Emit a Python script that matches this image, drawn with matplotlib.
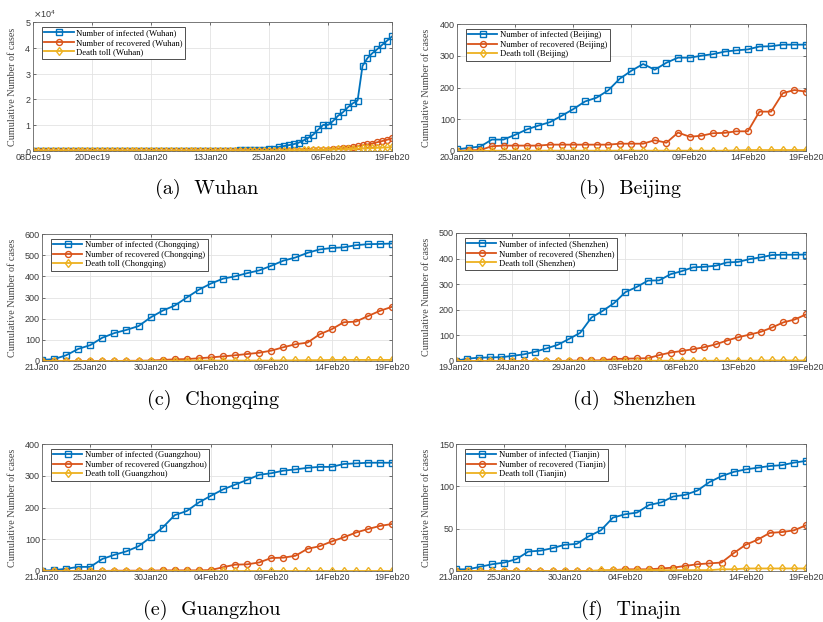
import numpy as np
import matplotlib
matplotlib.use("Agg")
import matplotlib.pyplot as plt
import matplotlib.dates as mdates
from matplotlib.ticker import ScalarFormatter, MultipleLocator

# ---------------- data ----------------
wuhan_start, wuhan_end = "2019-12-08", "2020-02-19"
wuhan_infected = ([1, 1, 1, 2, 2, 3, 4, 5, 7, 8, 10, 12, 15, 17, 20, 22, 25, 27, 30, 32, 35, 38, 40, 41]
                  + [41] * 15 + [45, 62, 121, 198, 258, 363, 425, 495, 572, 618, 698]
                  + [1590, 1905, 2261, 2639, 3215]
                  + [4109, 5142, 6384, 8351, 10117, 10117, 11618, 13603, 14982, 16902, 18454, 19558,
                     32994, 35991, 37914, 39462, 41152, 42752, 44412])
wuhan_recovered = ([0] * 24 + [0] * 14 + [2, 5, 12, 15, 19, 25, 25, 28, 31, 32, 39, 42]
                   + [50, 60, 80, 100, 120]
                   + [150, 190, 250, 330, 420, 550, 700, 900, 1100, 1350, 1550, 1850, 2200, 2550,
                      2900, 3400, 3850, 4350, 4900])
wuhan_deaths = ([0] * 24 + [0] * 10 + [1, 1, 1, 1, 1, 2, 2, 3, 4, 6, 9, 17, 24, 39, 45, 63]
                + [85, 104, 129, 159, 192]
                + [224, 265, 313, 362, 414, 478, 545, 608, 681, 748, 820, 872, 1016, 1036, 1123,
                   1233, 1309, 1381, 1497])
wuhan_ticks = ["2019-12-08", "2019-12-20", "2020-01-01", "2020-01-13", "2020-01-25", "2020-02-06", "2020-02-19"]

beijing_start = "2020-01-20"
beijing_infected = [5, 10, 14, 36, 36, 51, 68, 80, 91, 111, 132, 156, 168, 191, 228, 253, 274, 256, 278,
                    294, 294, 300, 305, 313, 317, 320, 329, 330, 335, 335, 335]
beijing_recovered = [0, 2, 3, 15, 17, 17, 17, 17, 20, 20, 20, 20, 20, 20, 23, 23, 23, 34, 26, 58, 45, 48,
                     56, 57, 62, 62, 124, 124, 182, 192, 187]
beijing_deaths = [0, 0, 0, 1, 1, 1, 1, 1, 1, 1, 1, 1, 1, 1, 1, 1, 1, 1, 1, 1, 1, 1, 1, 1, 2, 3, 3, 3, 3, 3, 3]
beijing_ticks = ["2020-01-20", "2020-01-25", "2020-01-30", "2020-02-04", "2020-02-09", "2020-02-14", "2020-02-19"]

chongqing_start = "2020-01-21"
chongqing_infected = [5, 9, 27, 57, 75, 110, 132, 147, 165, 206, 238, 262, 300, 337, 366, 389, 400, 415,
                      428, 450, 474, 489, 511, 527, 534, 537, 547, 552, 553, 555]
chongqing_recovered = [0, 0, 0, 0, 0, 0, 0, 1, 1, 2, 5, 8, 9, 13, 17, 22, 27, 33, 39, 49, 65, 79, 87, 126,
                       150, 183, 186, 212, 237, 256]
chongqing_deaths = [0, 0, 0, 0, 0, 0, 0, 0, 0, 1, 1, 1, 2, 2, 2, 2, 2, 2, 2, 2, 3, 3, 4, 4, 5, 5, 5, 5, 5, 5]
std_ticks = ["2020-01-21", "2020-01-25", "2020-01-30", "2020-02-04", "2020-02-09", "2020-02-14", "2020-02-19"]

shenzhen_start = "2020-01-19"
shenzhen_infected = [1, 9, 13, 14, 15, 20, 26, 36, 49, 63, 86, 110, 170, 196, 226, 269, 289, 314, 315, 339,
                     351, 366, 368, 372, 385, 387, 398, 405, 414, 415, 415, 416]
shenzhen_recovered = [0] * 10 + [1, 2, 2, 3, 8, 9, 10, 11, 23, 33, 39, 46, 54, 65, 80, 93, 103, 114, 131,
                                 151, 162, 182]
shenzhen_deaths = [0] * 17 + [1] * 10 + [2] * 5
shenzhen_ticks = ["2020-01-19", "2020-01-24", "2020-01-29", "2020-02-03", "2020-02-08", "2020-02-13", "2020-02-19"]

guangzhou_start = "2020-01-21"
guangzhou_infected = [1, 3, 7, 13, 13, 38, 51, 62, 78, 106, 137, 176, 189, 216, 237, 257, 272, 287, 303,
                      308, 316, 320, 325, 328, 328, 337, 339, 341, 341, 341]
guangzhou_recovered = [0, 0, 0, 0, 0, 0, 1, 1, 1, 1, 2, 2, 2, 2, 3, 12, 20, 21, 27, 41, 42, 48, 70, 78, 93,
                       106, 121, 132, 142, 148]
guangzhou_deaths = [0] * 30

tianjin_start = "2020-01-21"
tianjin_infected = [2, 2, 5, 8, 10, 14, 23, 24, 27, 31, 32, 41, 48, 63, 67, 69, 78, 81, 88, 90, 95, 105,
                    112, 117, 120, 122, 124, 125, 128, 130]
tianjin_recovered = [0] * 13 + [1, 2, 2, 2, 3, 4, 6, 8, 9, 10, 21, 31, 37, 45, 46, 48, 54]
tianjin_deaths = [0] * 12 + [1] * 10 + [2, 2] + [3] * 6

# ---------------- style ----------------
C_INF, C_REC, C_DEA = "#0072BD", "#D95319", "#EDB120"
TICK_FONT = "Liberation Sans"
SERIF = "Liberation Serif"

W, H = 823, 622
fig = plt.figure(figsize=(W / 100, H / 100), dpi=100)


def make_ax(l, r, t, b):
    return fig.add_axes([l / W, 1 - b / H, (r - l) / W, (b - t) / H])


panels = [
    dict(box=(33.3, 392, 22, 151), city="Wuhan", start=wuhan_start, inf=wuhan_infected,
         rec=wuhan_recovered, dea=wuhan_deaths, ticks=wuhan_ticks, ylim=50000, ystep=10000,
         cap="(a)  Wuhan", capx=207, capy=189, labx=17, sci=True),
    dict(box=(457, 806, 24, 151), city="Beijing", start=beijing_start, inf=beijing_infected,
         rec=beijing_recovered, dea=beijing_deaths, ticks=beijing_ticks, ylim=400, ystep=100,
         cap="(b)  Beijing", capx=630, capy=189, labx=431, sci=False),
    dict(box=(42, 392, 234, 361), city="Chongqing", start=chongqing_start, inf=chongqing_infected,
         rec=chongqing_recovered, dea=chongqing_deaths, ticks=std_ticks, ylim=600, ystep=100,
         cap="(c)  Chongqing", capx=213, capy=400, labx=17, sci=False),
    dict(box=(456, 806, 233, 361), city="Shenzhen", start=shenzhen_start, inf=shenzhen_infected,
         rec=shenzhen_recovered, dea=shenzhen_deaths, ticks=shenzhen_ticks, ylim=500, ystep=100,
         cap="(d)  Shenzhen", capx=634, capy=400, labx=431, sci=False),
    dict(box=(42, 392, 444, 571), city="Guangzhou", start=guangzhou_start, inf=guangzhou_infected,
         rec=guangzhou_recovered, dea=guangzhou_deaths, ticks=std_ticks, ylim=400, ystep=100,
         cap="(e)  Guangzhou", capx=212, capy=610, labx=17, sci=False),
    dict(box=(456, 806, 444, 571), city="Tianjin", start=tianjin_start, inf=tianjin_infected,
         rec=tianjin_recovered, dea=tianjin_deaths, ticks=std_ticks, ylim=150, ystep=50,
         cap="(f)  Tinajin", capx=631, capy=610, labx=431, sci=False),
]

for p in panels:
    l, r, t, b = p["box"]
    ax = make_ax(l, r, t, b)
    n = len(p["inf"])
    dates = np.arange(np.datetime64(p["start"]), np.datetime64(p["start"]) + n, dtype="datetime64[D]")
    kw = dict(lw=1.3, ms=4.3, mew=1.0, mfc="none")
    ax.plot(dates, p["inf"], "-s", color=C_INF, label=f"Number of infected ({p['city']})", **kw)
    ax.plot(dates, p["rec"], "-o", color=C_REC, label=f"Number of recovered ({p['city']})", **kw)
    ax.plot(dates, p["dea"], "-d", color=C_DEA, label=f"Death toll ({p['city']})", **kw)

    ax.set_xlim(dates[0], dates[-1])
    ax.set_ylim(0, p["ylim"])
    ax.yaxis.set_major_locator(MultipleLocator(p["ystep"]))
    ax.set_xticks([np.datetime64(d) for d in p["ticks"]])
    ax.xaxis.set_major_formatter(mdates.DateFormatter("%d%b%y"))
    if p["sci"]:
        fmt = ScalarFormatter(useMathText=True)
        fmt.set_powerlimits((0, 0))
        ax.yaxis.set_major_formatter(fmt)
        ax.yaxis.get_offset_text().set_fontsize(6.5)
        ax.yaxis.get_offset_text().set_color("#444444")
        ax.yaxis.get_offset_text().set_fontfamily(TICK_FONT)

    ax.grid(True, color="#e3e3e3", lw=0.6)
    ax.set_axisbelow(True)
    ax.tick_params(direction="in", length=2.5, width=0.5, labelsize=6.5, colors="#3a3a3a",
                   pad=1.5, top=True, right=True)
    for lab in ax.get_xticklabels() + ax.get_yticklabels():
        lab.set_fontfamily(TICK_FONT)
    for s in ax.spines.values():
        s.set_color("#666666")
        s.set_linewidth(0.6)

    ax.set_ylabel("Cumulative Number of cases", fontfamily=SERIF, fontsize=7.3, color="#444444")
    ax.yaxis.set_label_coords((p["labx"] - l) / (r - l), 0.5)

    leg = ax.legend(loc="upper left", bbox_to_anchor=(8.5 / (r - l), 1 - 4.5 / (b - t)),
                    borderaxespad=0, prop=dict(family=SERIF, size=6.2), fancybox=False,
                    framealpha=1, edgecolor="#333333", handlelength=3.4, handletextpad=0.3,
                    labelspacing=0.18, borderpad=0.3)
    leg.get_frame().set_linewidth(0.6)

    fig.text(p["capx"] / W, 1 - p["capy"] / H, p["cap"], ha="center", va="center",
             fontfamily="cmr10", fontsize=14.5)

fig.savefig("out.png", dpi=100)
